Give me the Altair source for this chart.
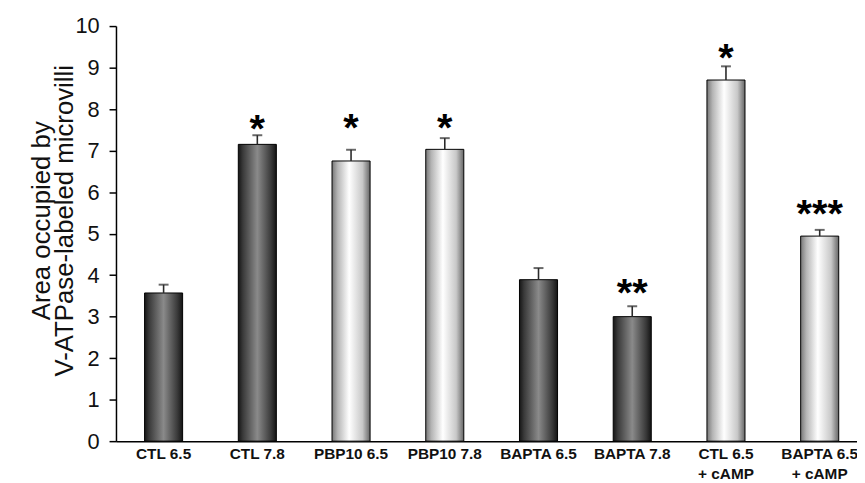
import altair as alt
import pandas as pd

categories = ["CTL 6.5", "CTL 7.8", "PBP10 6.5", "PBP10 7.8",
              "BAPTA 6.5", "BAPTA 7.8", "CTL 6.5|+ cAMP", "BAPTA 6.5|+ cAMP"]
means = [3.57, 7.15, 6.75, 7.03, 3.89, 3.00, 8.70, 4.94]
errors = [0.20, 0.22, 0.27, 0.27, 0.28, 0.25, 0.33, 0.15]
groups = ["dark", "dark", "light", "light", "dark", "dark", "light", "light"]
stars = ["", "*", "*", "*", "", "**", "*", "***"]
star_y = [0.0, 7.65, 7.68, 7.68, 0.0, 3.70, 9.37, 5.61]

df = pd.DataFrame({"cat": categories, "mean": means, "err": errors,
                   "group": groups, "star": stars, "star_y": star_y})
df["top"] = df["mean"] + df["err"]

FONT = "Liberation Sans"

dark_grad = alt.Gradient(
    gradient="linear", x1=0, x2=1, y1=0, y2=0,
    stops=[alt.GradientStop(color="#161616", offset=0),
           alt.GradientStop(color="#3a3a3a", offset=0.12),
           alt.GradientStop(color="#8a8a8a", offset=0.5),
           alt.GradientStop(color="#3a3a3a", offset=0.86),
           alt.GradientStop(color="#141414", offset=1)])
light_grad = alt.Gradient(
    gradient="linear", x1=0, x2=1, y1=0, y2=0,
    stops=[alt.GradientStop(color="#777777", offset=0),
           alt.GradientStop(color="#b5b5b5", offset=0.15),
           alt.GradientStop(color="#ffffff", offset=0.45),
           alt.GradientStop(color="#c8c8c8", offset=0.8),
           alt.GradientStop(color="#666666", offset=1)])

x = alt.X("cat:N", sort=categories, title=None,
          scale=alt.Scale(paddingInner=0.594, paddingOuter=0.25, align=0.61),
          axis=alt.Axis(labelExpr="split(datum.label, '|')", labelAngle=0,
                        ticks=False, labelFont=FONT, labelFontWeight="bold",
                        labelFontSize=15.5, labelColor="#111", labelPadding=6,
                        labelLineHeight=20, domainColor="black", domainWidth=1.5))

yscale = alt.Scale(domain=[0, 10], nice=False)
yaxis = alt.Axis(values=list(range(11)),
                 title=["Area occupied by", "V-ATPase-labeled microvilli"],
                 titleFont=FONT, titleFontSize=26, titleFontWeight="normal",
                 titleColor="#111", titleLineHeight=24, titlePadding=-3,
                 titleY=196,
                 labelFont=FONT, labelFontSize=22, labelColor="#111",
                 labelPadding=10, tickSize=7, tickColor="black",
                 tickWidth=1.5, domainColor="black", domainWidth=1.5,
                 grid=False)


def Y(field):
    return alt.Y(field, scale=yscale, axis=yaxis)


base = alt.Chart(df)

dark = base.transform_filter(alt.datum.group == "dark").mark_bar(
    fill=dark_grad, stroke="black", strokeWidth=1).encode(x=x, y=Y("mean:Q"))
light = base.transform_filter(alt.datum.group == "light").mark_bar(
    fill=light_grad, stroke="black", strokeWidth=1).encode(x=x, y=Y("mean:Q"))

rule = base.mark_rule(color="#2a2a2a", strokeWidth=1.6).encode(
    x=x, y=Y("mean:Q"), y2="top:Q")
cap = base.mark_tick(color="#2a2a2a", thickness=2, size=10, orient="horizontal").encode(
    x=x, y=Y("top:Q"))

STAR_SIZE = 40
star = base.transform_filter(alt.datum.star != "").mark_text(
    font=FONT, fontWeight="bold", fontSize=STAR_SIZE, baseline="alphabetic",
    dy=19, color="black").encode(
    x=x, y=Y("star_y:Q"), text="star:N")

chart = alt.layer(dark, light, rule, cap, star).properties(
    width=748, height=419,
    autosize=alt.AutoSizeParams(type="none"),
    padding={"left": 109, "top": 16, "right": 0, "bottom": 40},
    background="white",
).configure_view(stroke=None)

chart.save("out.html", embed_options={"renderer": "svg", "actions": False})
